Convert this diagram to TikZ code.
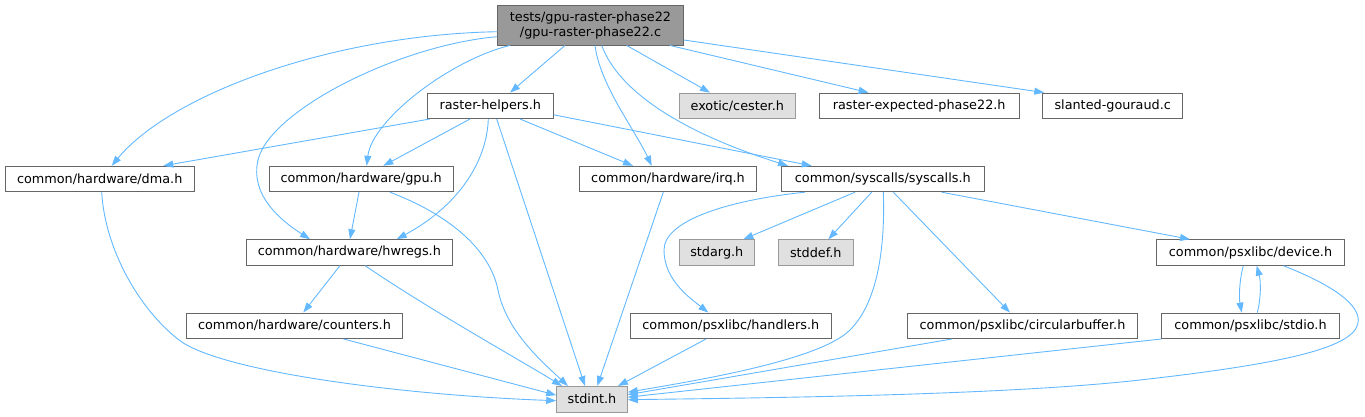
\documentclass[tikz,border=0pt]{standalone}
\usepackage{fontspec}
\setmainfont{DejaVu Sans}
\usetikzlibrary{arrows.meta}
\definecolor{edgec}{HTML}{63B8FF}
\definecolor{bordc}{HTML}{666666}
\definecolor{extb}{HTML}{999999}
\definecolor{extf}{HTML}{E0E0E0}
\definecolor{rootf}{HTML}{999999}
\tikzset{
  nb/.style={draw=bordc, fill=white, line width=0.9pt, inner sep=0pt, minimum height=25.5pt, font=\fontsize{12.8}{15}\selectfont, text=black},
  ext/.style={nb, draw=extb, fill=extf},
  rootn/.style={nb, fill=rootf, minimum height=40pt, align=center},
  e/.style={draw=edgec, line width=0.9pt, -{Triangle[length=10pt,width=7pt]}}
}
\begin{document}
\begin{tikzpicture}[x=1pt,y=-1pt]
\useasboundingbox (0,0) rectangle (1365,417);
% nodes
\node[rootn, minimum width=185.6pt] (root) at (590.5,25) {tests/gpu-raster-phase22\\/gpu-raster-phase22.c};
\node[nb, minimum width=126pt] (rh) at (490.3,105.8) {raster-helpers.h};
\node[ext, minimum width=116pt] (cester) at (737.3,105.8) {exotic/cester.h};
\node[nb, minimum width=199.7pt] (rexp) at (919.2,105.8) {raster-expected-phase22.h};
\node[nb, minimum width=140pt] (slanted) at (1112.7,105.8) {slanted-gouraud.c};
\node[nb, minimum width=189.3pt] (dma) at (99.7,179) {common/hardware/dma.h};
\node[nb, minimum width=184.3pt] (gpu) at (361.2,179) {common/hardware/gpu.h};
\node[nb, minimum width=177.4pt] (irq) at (668,179) {common/hardware/irq.h};
\node[nb, minimum width=203.7pt] (sys) at (882.8,179) {common/syscalls/syscalls.h};
\node[nb, minimum width=206.7pt] (hwregs) at (349.3,252.4) {common/hardware/hwregs.h};
\node[ext, minimum width=75pt] (stdarg) at (716.8,252.5) {stdarg.h};
\node[ext, minimum width=75pt] (stddef) at (815.8,252.5) {stddef.h};
\node[nb, minimum width=187.6pt] (device) at (1250.5,252.5) {common/psxlibc/device.h};
\node[nb, minimum width=215.7pt] (counters) at (294.5,325.7) {common/hardware/counters.h};
\node[nb, minimum width=201.7pt] (handlers) at (730.8,325.8) {common/psxlibc/handlers.h};
\node[nb, minimum width=230.3pt] (circ) at (1022.5,325.8) {common/psxlibc/circularbuffer.h};
\node[nb, minimum width=177.6pt] (stdio) at (1250.5,325.8) {common/psxlibc/stdio.h};
\node[ext, minimum width=70.6pt] (stdint) at (592,399.2) {stdint.h};
% root edges
\draw[e] ([yshift=-6.7pt]root.west) .. controls (330,35) and (170,95) .. ([xshift=12pt]dma.north);
\draw[e] ([yshift=-11.7pt]root.west) .. controls (400,45) and (270,110) .. (258,160) .. controls (250,195) and (280,220) .. ([xshift=-39.3pt]hwregs.north);
\draw[e] ([xshift=-80.5pt]root.south) .. controls (450,60) and (372,120) .. ([xshift=5.5pt]gpu.north);
\draw[e] ([xshift=-25.5pt]root.south) -- ([xshift=19.7pt]rh.north);
\draw[e] ([xshift=4.5pt]root.south) .. controls (600,85) and (635,130) .. ([xshift=-16.3pt]irq.north);
\draw[e] ([xshift=11.2pt]root.south) .. controls (620,95) and (690,135) .. ([xshift=-94.8pt]sys.north);
\draw[e] ([xshift=36.2pt]root.south) -- ([xshift=-27.3pt]cester.north);
\draw[e] ([xshift=79.5pt]root.south) -- ([xshift=-50.6pt]rexp.north);
\draw[e] ([yshift=-15pt]root.east) -- ([xshift=2pt]slanted.north west);
% raster-helpers edges
\draw[e] ([xshift=3pt]rh.south west) -- ([xshift=63.6pt]dma.north);
\draw[e] ([xshift=-20.3pt]rh.south) -- ([xshift=22.1pt]gpu.north);
\draw[e] ([xshift=-2pt]rh.south) .. controls (487,160) and (460,205) .. ([xshift=47.4pt]hwregs.north);
\draw[e] ([xshift=6.4pt]rh.south) -- ([xshift=-7pt]stdint.north);
\draw[e] ([xshift=29.7pt]rh.south) -- ([xshift=-35pt]irq.north);
\draw[e] ([yshift=-9pt]rh.east) -- ([xshift=-71.1pt]sys.north);
% dma
\draw[e] ([xshift=2pt]dma.south) .. controls (105,250) and (140,310) .. (179,340) .. controls (220,371.5) and (400,395) .. ([yshift=-1.5pt]stdint.west);
% gpu
\draw[e] ([xshift=-2.2pt]gpu.south) -- ([xshift=0.7pt]hwregs.north);
\draw[e] ([xshift=28.8pt]gpu.south) .. controls (450,215) and (490,250) .. (498,290) .. controls (506,330) and (540,360) .. ([xshift=-24pt]stdint.north);
% hwregs
\draw[e] ([xshift=-9.3pt]hwregs.south) -- ([xshift=8.8pt]counters.north);
\draw[e] ([xshift=15.7pt]hwregs.south) .. controls (430,310) and (520,360) .. ([xshift=-30pt]stdint.north);
% counters
\draw[e] ([xshift=48.8pt]counters.south) -- ([yshift=4pt]stdint.west);
% irq
\draw[e] ([xshift=-4.7pt]irq.south) -- ([xshift=5.3pt]stdint.north);
% syscalls
\draw[e] ([xshift=-77.8pt]sys.south) .. controls (730,200) and (664,220) .. (664,250) .. controls (664,280) and (690,298) .. ([xshift=-22.5pt]handlers.north);
\draw[e] ([xshift=-27.8pt]sys.south) -- ([xshift=26.5pt]stdarg.north);
\draw[e] ([xshift=-11.1pt]sys.south) -- ([xshift=12.5pt]stddef.north);
\draw[e] ([xshift=0.5pt]sys.south) .. controls (885,240) and (880,300) .. (850,330) .. controls (820,360) and (700,380) .. ([yshift=7pt]stdint.east);
\draw[e] ([xshift=10.5pt]sys.south) -- ([xshift=-12.5pt]circ.north);
\draw[e] ([xshift=58.9pt]sys.south) -- ([xshift=-60.5pt]device.north);
% device / stdio
\draw[e] ([xshift=-7.2pt]device.south) .. controls (1239,282) and (1239,298) .. ([xshift=-8.8pt]stdio.north);
\draw[e] ([xshift=6.8pt]stdio.north) .. controls (1261,298) and (1261,282) .. ([xshift=6.2pt]device.south);
\draw[e] ([xshift=32.8pt]device.south) .. controls (1320,280) and (1358,300) .. (1358.3,320) .. controls (1358.5,345) and (1300,362) .. (1140,380) .. controls (1000,395.75) and (750,398) .. ([yshift=-0.5pt]stdint.east);
\draw[e] (stdio.south west) -- ([yshift=2pt]stdint.east);
\draw[e] ([xshift=-70.8pt]circ.south) -- ([yshift=4.5pt]stdint.east);
\draw[e] ([xshift=-24.8pt]handlers.south) -- ([xshift=26pt]stdint.north);
\end{tikzpicture}
\end{document}
